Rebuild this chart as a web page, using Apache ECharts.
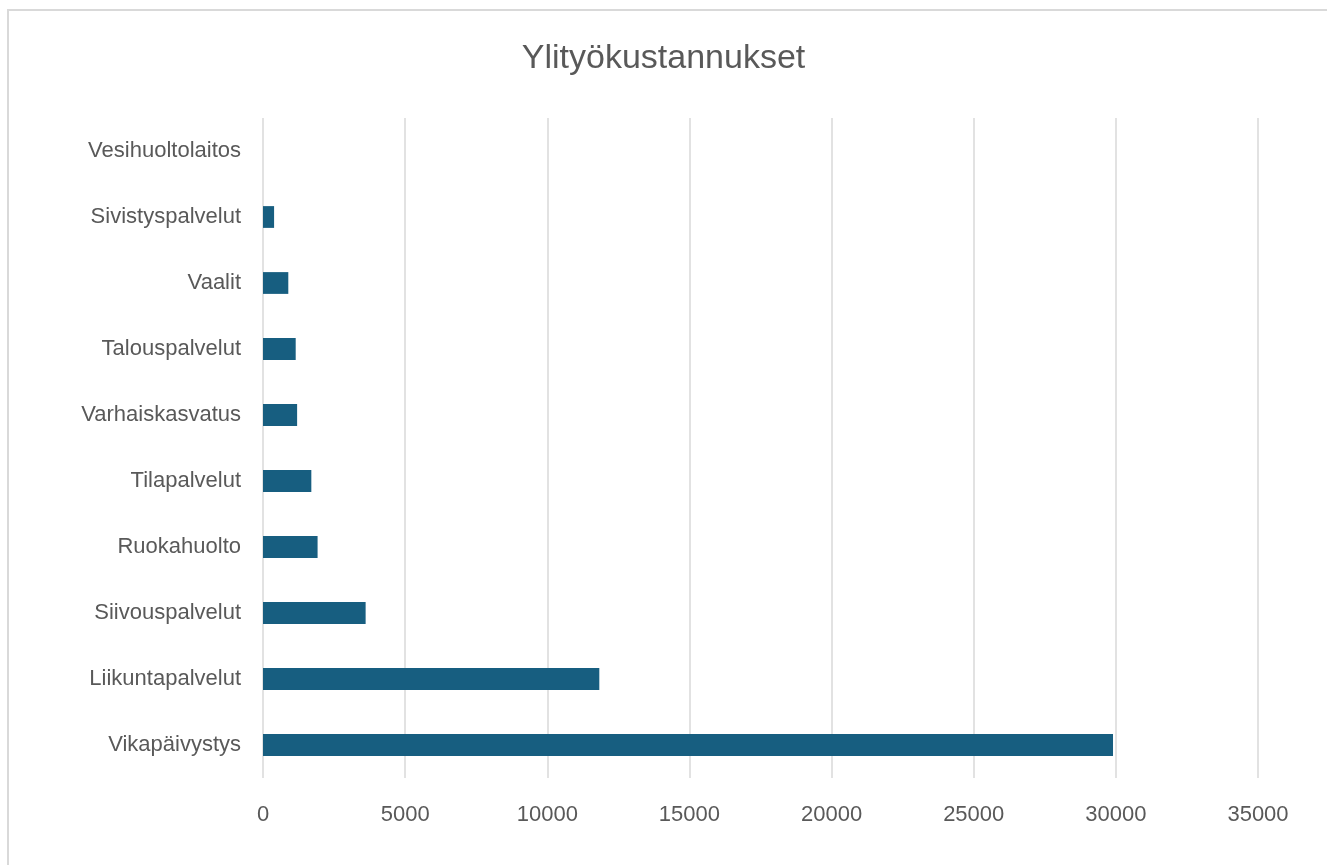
<!DOCTYPE html>
<html>
<head>
<meta charset="utf-8">
<script src="https://cdn.jsdelivr.net/npm/echarts@6/dist/echarts.min.js"></script>
<style>
html,body{margin:0;padding:0;background:#fff;}
#frame{position:absolute;left:7px;top:9px;width:1400px;height:900px;border-left:2px solid #d9d9d9;border-top:2px solid #d9d9d9;}
#chart{position:absolute;left:0;top:0;width:1327px;height:865px;}
</style>
</head>
<body>
<div id="frame"></div>
<div id="chart"></div>
<script>
const title = 'Ylityökustannukset';
const categories = ['Vikapäivystys','Liikuntapalvelut','Siivouspalvelut','Ruokahuolto','Tilapalvelut','Varhaiskasvatus','Talouspalvelut','Vaalit','Sivistyspalvelut','Vesihuoltolaitos'];
const values = [29900, 11830, 3610, 1920, 1700, 1200, 1150, 890, 390, 0];
const xTicks = {min: 0, max: 35000, interval: 5000};

const chart = echarts.init(document.getElementById('chart'), null, {renderer: 'canvas'});
chart.setOption({
  backgroundColor: 'transparent',
  animation: false,
  title: {
    text: title,
    left: 'center',
    top: 37,
    textStyle: {fontFamily: 'Liberation Sans', fontSize: 34, fontWeight: 'normal', color: '#595959'}
  },
  grid: {left: 263, right: 69, top: 118, bottom: 87, containLabel: false},
  xAxis: {
    type: 'value',
    min: xTicks.min, max: xTicks.max, interval: xTicks.interval,
    axisLine: {show: false},
    axisTick: {show: false},
    axisLabel: {margin: 26, fontFamily: 'Liberation Sans', fontSize: 22, color: '#595959',
      formatter: function (v) { return String(v); }},
    splitLine: {show: true, lineStyle: {color: '#d9d9d9', width: 1.5}}
  },
  yAxis: {
    type: 'category',
    data: categories,
    axisLine: {show: false},
    axisTick: {show: false},
    axisLabel: {margin: 22, fontFamily: 'Liberation Sans', fontSize: 22, color: '#595959', padding: [4, 0, 0, 0]},
    splitLine: {show: false}
  },
  series: [{
    type: 'bar',
    data: values,
    barWidth: '33%',
    itemStyle: {color: '#175e80'}
  }]
});
</script>
</body>
</html>
